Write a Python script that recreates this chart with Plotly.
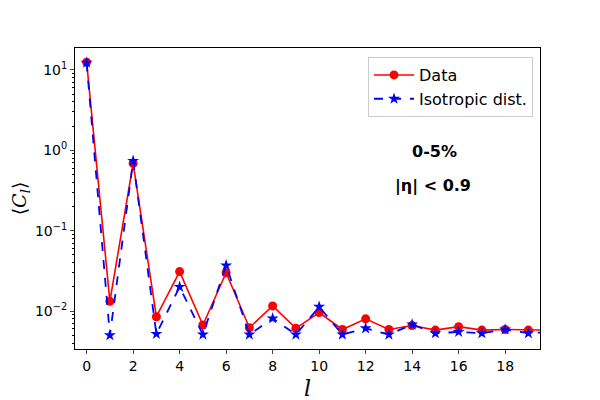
import plotly.graph_objects as go

# multipole index l (point at 20 is drawn but falls outside the x range)
ELL = list(range(21))

# <C_l> measured, 0-5% centrality
DATA_CL = [12.5, 0.0132, 0.69, 0.0085, 0.031, 0.0067, 0.030, 0.0062, 0.0116, 0.0061,
           0.0096, 0.0059, 0.0080, 0.0059, 0.0066, 0.0058, 0.0064, 0.0058, 0.0059, 0.0058,
           0.0058]
# <C_l> for isotropic distribution
ISO_CL = [12.3, 0.0050, 0.74, 0.0052, 0.020, 0.0051, 0.037, 0.0051, 0.0081, 0.0051,
          0.0113, 0.0051, 0.0061, 0.0051, 0.0068, 0.0053, 0.0055, 0.0053, 0.0059, 0.0053,
          0.0055]

Y_TICKS = [10, 1, 0.1, 0.01]
Y_TICKTEXT = ["10<sup>1</sup>", "10<sup>0</sup>", "10<sup>\u22121</sup>", "10<sup>\u22122</sup>"]
X_TICKS = list(range(0, 20, 2))
# minor log ticks 2..9 per decade
Y_MINOR = [m * 10.0 ** e for e in range(-3, 2) for m in range(2, 10)]

fig = go.Figure()
fig.add_trace(go.Scatter(
    x=ELL, y=DATA_CL, name="Data", mode="lines+markers",
    line=dict(color="#ff0000", width=1.6),
    marker=dict(symbol="circle", size=9, color="#ff0000"),
))
fig.add_trace(go.Scatter(
    x=ELL, y=ISO_CL, name="Isotropic dist.", mode="lines+markers",
    line=dict(color="#0000ff", width=1.8, dash="dash"),
    marker=dict(symbol="star", size=9, color="#0000ff"),
))

fig.add_annotation(text="<b>0-5%</b>", x=0.774, y=0.656, xref="paper", yref="paper",
                   xanchor="center", yanchor="middle",
                   showarrow=False, font=dict(size=16, color="black"))
fig.add_annotation(text="<b>|\u03b7| &lt; 0.9</b>", x=0.770, y=0.54, xref="paper", yref="paper",
                   xanchor="center", yanchor="middle",
                   showarrow=False, font=dict(size=16, color="black"))

# the page body adds an 8px offset, so margins are shifted to compensate
fig.update_layout(
    width=600, height=400,
    paper_bgcolor="white", plot_bgcolor="white",
    font=dict(family="DejaVu Sans", size=14, color="black"),
    margin=dict(l=67, r=68, t=40, b=59),
    showlegend=True,
    legend=dict(x=0.985, y=0.97, xanchor="right", yanchor="top",
                bgcolor="rgba(255,255,255,0.8)", bordercolor="#cccccc", borderwidth=1,
                font=dict(size=16), itemwidth=40, tracegroupgap=0),
)
fig.update_xaxes(
    range=[-0.5, 19.5], tickvals=X_TICKS, ticks="outside", ticklen=4,
    showgrid=False, zeroline=False, showline=True, linecolor="black", linewidth=1,
    mirror=True, automargin=False,
    title=dict(text="<i>l</i>", font=dict(family="DejaVu Serif", size=22), standoff=7),
)
fig.update_yaxes(
    type="log", range=[-2.472, 1.273], tickvals=Y_TICKS, ticktext=Y_TICKTEXT,
    ticks="outside", ticklen=4,
    minor=dict(tickvals=Y_MINOR, ticks="outside", ticklen=2, tickcolor="black",
               showgrid=False),
    showgrid=False, zeroline=False, showline=True, linecolor="black", linewidth=1,
    mirror=True, automargin=False,
    title=dict(text="\u27e8<i>C<sub>l</sub></i>\u27e9", font=dict(family="DejaVu Serif", size=19),
               standoff=10),
)

fig.write_html("out.html")
